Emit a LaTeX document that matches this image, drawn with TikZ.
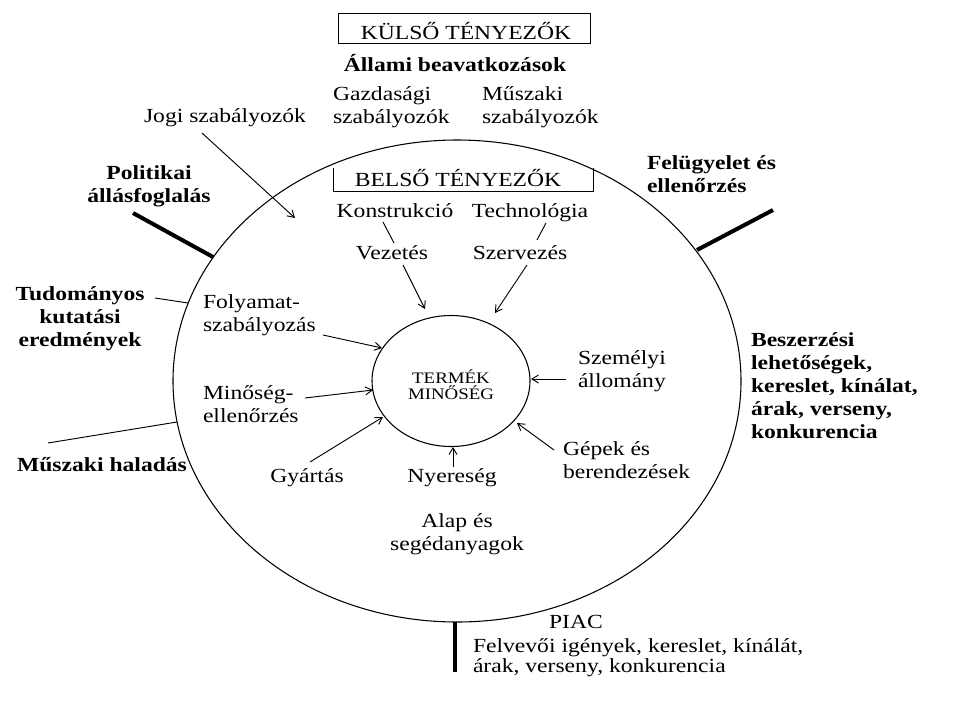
\documentclass[tikz,border=0pt]{standalone}
\usepackage{fontspec}
\setmainfont{Liberation Serif}[FakeStretch=1.18]
\usetikzlibrary{shapes.geometric,arrows.meta}
\begin{document}
\begin{tikzpicture}[x=0.75pt,y=-0.75pt,
  txt/.style={inner sep=0pt, outer sep=0pt, font=\fontsize{15pt}{17.25pt}\selectfont},
  btxt/.style={txt, font=\fontsize{15pt}{17.25pt}\selectfont\bfseries},
  one/.style={text height=10.5pt, text depth=3.3pt},
  conn/.style={line width=0.7pt},
  arr/.style={conn, -{Straight Barb[length=5pt,width=6pt,line width=0.7pt]}},
  heavy/.style={line width=3pt},
  ring/.style={ellipse, draw, line width=0.8pt, inner sep=0pt, outer sep=0pt}
]
\fill[white] (0,0) rectangle (960,714);
\useasboundingbox (0,0) rectangle (960,714);

% ellipses
\node[ring, minimum width=426pt, minimum height=361.5pt] (outer) at (457,381) {};
\node[ring, minimum width=118.5pt, minimum height=98.25pt] (inner) at (451,381) {};
\node[txt, align=center, font=\fontsize{12pt}{12pt}\selectfont] (termek) at (451,385) {TERMÉK\\MINŐSÉG};

% boxes
\node[draw, conn, minimum width=189pt, minimum height=22.5pt, inner sep=0pt] (kulsobox) at (464,28) {};
\node[txt, one] (kulso) at (466,35) {KÜLSŐ TÉNYEZŐK};
\node[txt, one] (belso) at (458,182) {BELSŐ TÉNYEZŐK};
\coordinate (btl) at (333,168);
\coordinate (bbr) at (593,191);
\draw[conn] (btl) |- (bbr) -- (bbr |- btl);

% outer texts
\node[btxt, one] (allami) at (455,67) {Állami beavatkozások};
\node[txt, align=left, anchor=west] (gazd) at (333,107.5) {Gazdasági\\szabályozók};
\node[txt, align=left, anchor=west] (musz) at (482,107.5) {Műszaki\\szabályozók};
\node[txt, one] (jogi) at (225,118) {Jogi szabályozók};
\node[btxt, align=center] (polit) at (149,186.5) {Politikai\\állásfoglalás};
\node[btxt, align=left, anchor=west] (felug) at (647,174) {Felügyelet és\\ellenőrzés};
\node[btxt, align=center] (tudo) at (80,319) {Tudományos\\kutatási\\eredmények};
\node[btxt, one] (muszhal) at (102,467) {Műszaki haladás};
\node[btxt, align=left, anchor=west] (besz) at (751,386) {Beszerzési\\lehetőségek,\\kereslet, kínálat,\\árak, verseny,\\konkurencia};
\node[txt, one] (piac) at (576,624) {PIAC};
\node[txt, align=left, anchor=west, font=\fontsize{15pt}{15pt}\selectfont] (felv) at (473,658) {Felvevői igények, kereslet, kínálát,\\árak, verseny, konkurencia};

% inner texts
\node[txt, one] (konst) at (395,213) {Konstrukció};
\node[txt, one] (techn) at (530,213) {Technológia};
\node[txt, one] (vez) at (392,255) {Vezetés};
\node[txt, one] (szerv) at (520,255) {Szervezés};
\node[txt, align=left, anchor=west] (folyam) at (203,315) {Folyamat-\\szabályozás};
\node[txt, align=left, anchor=west] (minos) at (203,404) {Minőség-\\ellenőrzés};
\node[txt, one] (gyartas) at (307,478) {Gyártás};
\node[txt, one] (nyer) at (452,478) {Nyereség};
\node[txt, align=center] (alap) at (457,534.5) {Alap és\\segédanyagok};
\node[txt, align=left, anchor=west] (szem) at (578,371) {Személyi\\állomány};
\node[txt, align=left, anchor=west] (gepek) at (563,460) {Gépek és\\berendezések};

% connector end points
\coordinate (j1) at (202,133);   \coordinate (j2) at (295,218);
\coordinate (p1) at (133,213);   \coordinate (p2) at (213,257);
\coordinate (f1) at (773,210);   \coordinate (f2) at (697,250);
\coordinate (m1) at (455,622);   \coordinate (m2) at (455,672);
\coordinate (t1) at (155,298);   \coordinate (t2) at (188,303);
\coordinate (h1) at (48,443);    \coordinate (h2) at (177,422);
\coordinate (k1) at (383,222);   \coordinate (k2) at (394,243);
\coordinate (e1) at (546,223);   \coordinate (e2) at (537,240);
\coordinate (v1) at (403,265);   \coordinate (v2) at (425,309);
\coordinate (s1) at (527,265);   \coordinate (s2) at (495,313);
\coordinate (fa1) at (323,335);  \coordinate (fa2) at (382,348);
\coordinate (me1) at (305,398);  \coordinate (me2) at (373,390);
\coordinate (g1) at (310,462);   \coordinate (g2) at (383,417);
\coordinate (n1) at (453,467);   \coordinate (n2) at (453,447);
\coordinate (ge1) at (554,450);  \coordinate (ge2) at (517,423);
\coordinate (sz1) at (566,379);  \coordinate (sz2) at (531,379);

% connectors
\draw[arr] (j1) -- (j2);
\draw[heavy] (p1) -- (p2);
\draw[heavy] (f1) -- (f2);
\draw[heavy] (m1) -- (m2);
\draw[conn] (t1) -- (t2);
\draw[conn] (h1) -- (h2);
\draw[conn] (k1) -- (k2);
\draw[conn] (e1) -- (e2);
\draw[arr] (v1) -- (v2);
\draw[arr] (s1) -- (s2);
\draw[arr] (fa1) -- (fa2);
\draw[arr] (me1) -- (me2);
\draw[arr] (g1) -- (g2);
\draw[arr] (n1) -- (n2);
\draw[arr] (ge1) -- (ge2);
\draw[arr] (sz1) -- (sz2);
\end{tikzpicture}
\end{document}
